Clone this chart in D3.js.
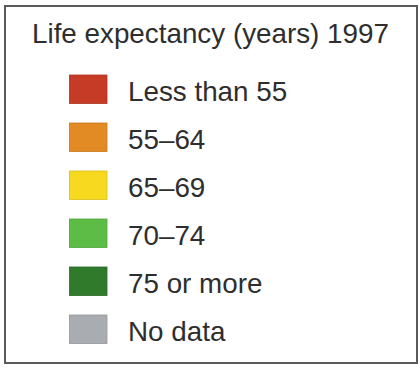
<!DOCTYPE html>
<html>
<head>
<meta charset="utf-8">
<script src="https://cdn.jsdelivr.net/npm/d3@7"></script>
<style>
  body { margin: 0; background: #fff; }
  text { font-family: "Liberation Sans", Arial, sans-serif; fill: #2e2e2e; }
</style>
</head>
<body>
<div id="legend"></div>
<script>
var title = "Life expectancy (years) 1997";
var categories = ["Less than 55", "55\u201364", "65\u201369", "70\u201374", "75 or more", "No data"];
var colors = ["#c63b26", "#e28a24", "#f7da1f", "#5cbc46", "#2f7a2b", "#a9adb1"];

var width = 420, height = 369;

var svg = d3.select("#legend")
  .append("svg")
    .attr("width", width)
    .attr("height", height);

// frame
svg.append("rect")
  .attr("x", 5)
  .attr("y", 6)
  .attr("width", 412)
  .attr("height", 357)
  .attr("fill", "#fff")
  .attr("stroke", "#5a5a5a")
  .attr("stroke-width", 2);

svg.append("text")
  .attr("x", 32)
  .attr("y", 42.5)
  .attr("font-size", 27.8)
  .text(title);

var y = d3.scaleBand()
  .domain(categories)
  .range([75, 343.5])
  .paddingInner(0.406)
  .paddingOuter(0);

var row = svg.append("g")
  .selectAll("g")
  .data(categories)
  .enter()
  .append("g")
    .attr("transform", function(d) { return "translate(0," + y(d) + ")"; });

row.append("rect")
  .attr("x", 69.5)
  .attr("width", 37.5)
  .attr("height", y.bandwidth())
  .attr("fill", function(d, i) { return colors[i]; })
  .attr("stroke", function(d, i) { return d3.color(colors[i]).darker(0.4); })
  .attr("stroke-width", 0.8);

row.append("text")
  .attr("x", 128)
  .attr("y", 26)
  .attr("font-size", 27.8)
  .text(function(d) { return d; });
</script>
</body>
</html>
